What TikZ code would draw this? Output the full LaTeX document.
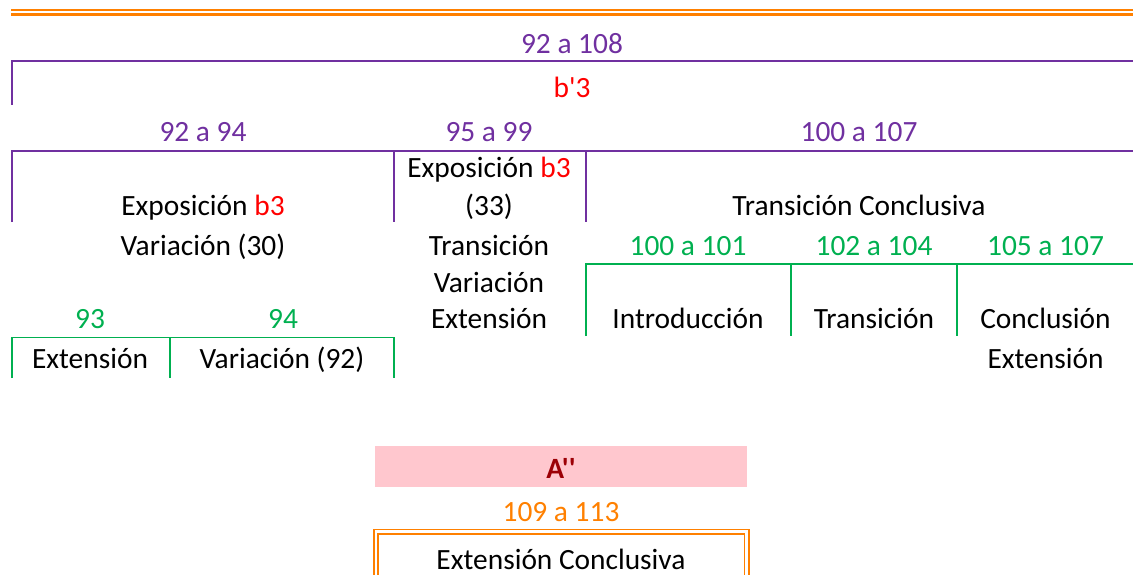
\documentclass[tikz,border=0pt]{standalone}
\usepackage{fontspec}
\setmainfont{Carlito}[Ligatures=TeXOff]
\definecolor{purp}{HTML}{7030A0}
\definecolor{grn}{HTML}{00B050}
\definecolor{orng}{HTML}{FF8000}
\definecolor{pinkbg}{HTML}{FFC7CE}
\definecolor{darkred}{HTML}{9C0006}
\tikzset{cell/.style={inner sep=0pt,anchor=base,font=\fontsize{29.4}{35}\selectfont}}
\begin{document}
\begin{tikzpicture}[x=1pt,y=-1pt]
  \useasboundingbox (0,0) rectangle (1133,575);
  % top double rule
  \draw[orng,line width=2.2pt] (11,10) -- (1133,10);
  \draw[orng,line width=2.2pt] (11,14.5) -- (1133,14.5);
  % b'3 section
  \node[cell,purp] (bars) at (572,53.5) {92 a 108};
  \draw[purp,line width=2.2pt] (12,105) -- (12,61) -- (1133,61);
  \node[cell,red] (sect) at (572,97.5) {b'3};
  \node[cell,purp] (barsA) at (203,141.5) {92 a 94};
  \node[cell,purp] (barsB) at (489,141.5) {95 a 99};
  \node[cell,purp] (barsC) at (859,141.5) {100 a 107};
  \draw[purp,line width=2.2pt] (12,222) -- (12,151) -- (1133,151);
  \draw[purp,line width=2.2pt] (394,151) -- (394,222);
  \draw[purp,line width=2.2pt] (586,151) -- (586,222);
  \node[cell] (expA) at (203,215) {Exposición \textcolor{red}{b3}};
  \node[cell] (expB) at (489,178) {Exposición \textcolor{red}{b3}};
  \node[cell] (expBn) at (489,215) {(33)};
  \node[cell] (trcon) at (859,215) {Transición Conclusiva};
  \node[cell] (varA) at (203,255) {Variación (30)};
  \node[cell] (trB) at (489,255) {Transición};
  \node[cell] (varB) at (489,292) {Variación};
  \node[cell] (extB) at (489,328) {Extensión};
  % green subdivisions
  \node[cell,grn] (barsC1) at (688,255) {100 a 101};
  \node[cell,grn] (barsC2) at (874,255) {102 a 104};
  \node[cell,grn] (barsC3) at (1045.5,255) {105 a 107};
  \draw[grn,line width=1.7pt] (585.7,336) -- (585.7,264) -- (1133,264);
  \draw[grn,line width=1.7pt] (791,264) -- (791,336);
  \draw[grn,line width=1.7pt] (957,264) -- (957,336);
  \node[cell] (intro) at (688,328) {Introducción};
  \node[cell] (trC) at (874,328) {Transición};
  \node[cell] (concl) at (1045.5,328) {Conclusión};
  \node[cell] (extC) at (1045.5,368) {Extensión};
  \node[cell,grn] (barA1) at (90,328) {93};
  \node[cell,grn] (barA2) at (283,328) {94};
  \draw[grn,line width=1.7pt] (12,378) -- (12,337.5) -- (394,337.5) -- (394,378);
  \draw[grn,line width=1.7pt] (170,337.5) -- (170,378);
  \node[cell] (extA) at (90,368) {Extensión};
  \node[cell] (varAb) at (282,368) {Variación (92)};
  % A'' section
  \fill[pinkbg] (375,446) rectangle (747,487);
  \node[cell,darkred,font=\fontsize{29.4}{35}\selectfont\bfseries] (secA) at (561,478) {A''};
  \node[cell,orng] (barsD) at (561,521) {109 a 113};
  \draw[orng,line width=1.6pt] (374,575) -- (374,529.5) -- (749,529.5) -- (749,575);
  \draw[orng,line width=1.6pt] (377.8,575) -- (377.8,534) -- (744.5,534) -- (744.5,575);
  \node[cell] (extcon) at (561,569.5) {Extensión Conclusiva};
\end{tikzpicture}
\end{document}
